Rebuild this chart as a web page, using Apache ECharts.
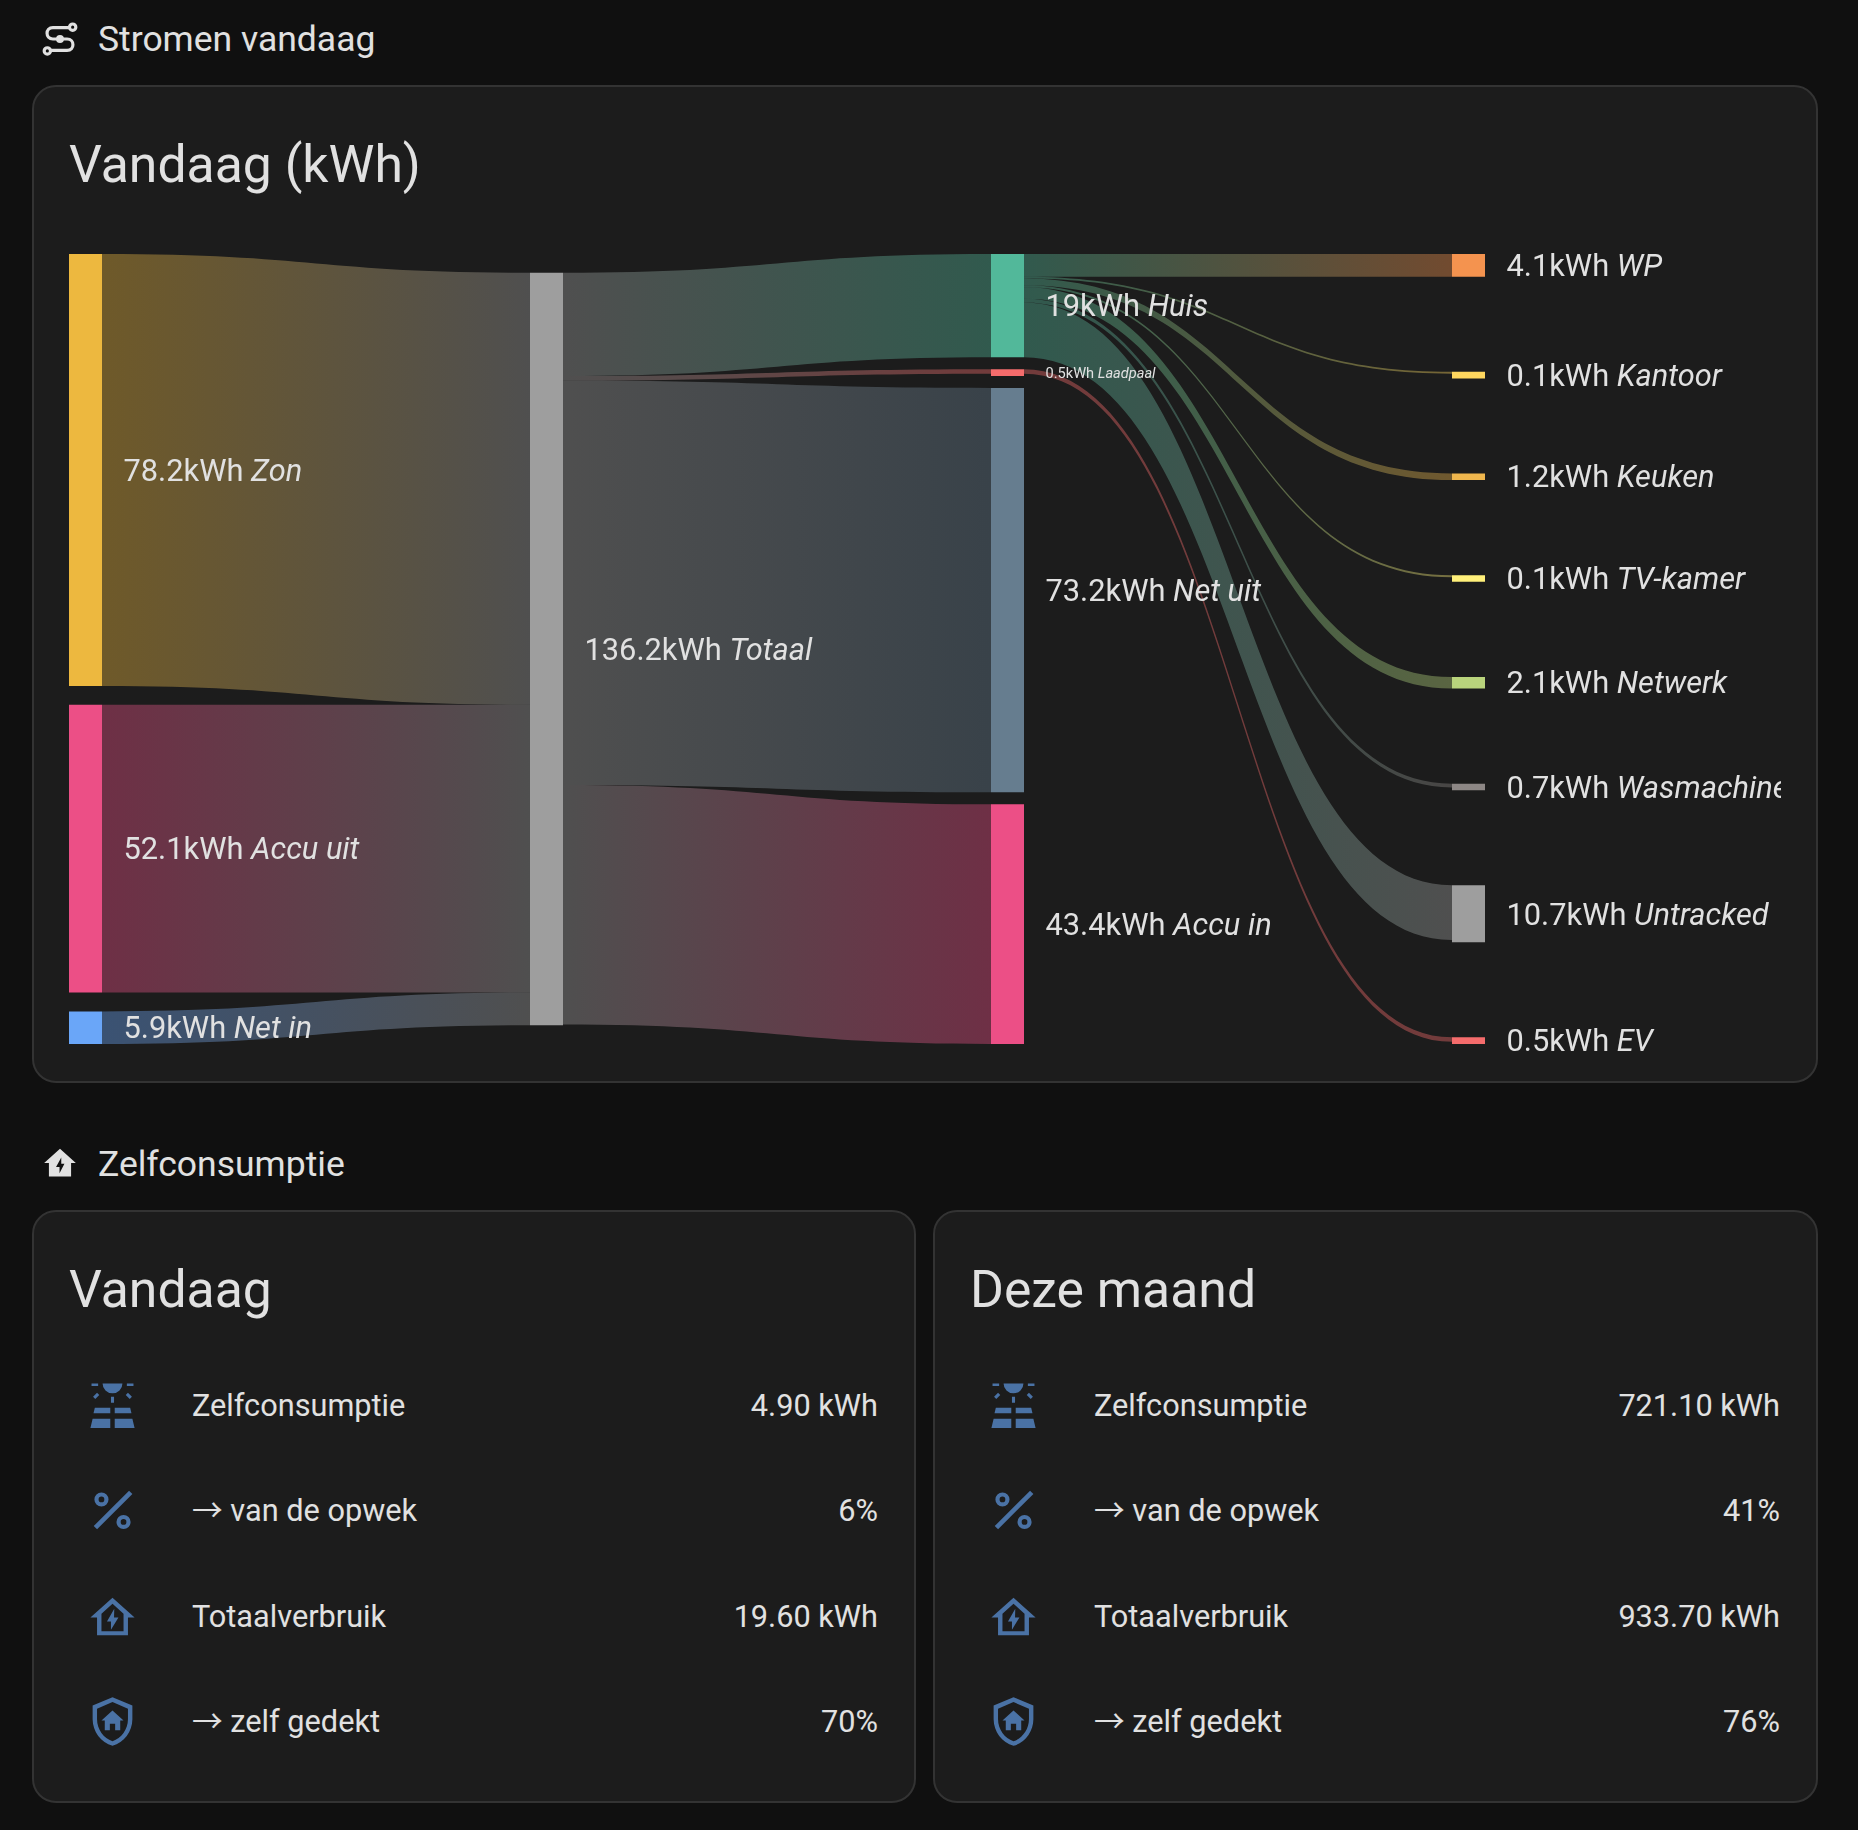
<!DOCTYPE html>
<html>
<head>
<meta charset="utf-8">
<title>Stromen vandaag</title>
<script src="https://cdn.jsdelivr.net/npm/echarts@6/dist/echarts.min.js"></script>
<style>
html, body { margin: 0; padding: 0; background: #101010; }
body { position: relative; width: 1858px; height: 1830px; overflow: hidden; font-family: Roboto, 'Liberation Sans', sans-serif; color: #e1e1e1; }
.head { position: absolute; left: 98px; font-size: 35.500px; line-height: 44px; white-space: nowrap; }
.card { position: absolute; box-sizing: border-box; background: #1c1c1c; border: 2px solid #333; border-radius: 24px; }
.title { position: absolute; left: 35px; font-size: 51.700px; line-height: 64px; white-space: nowrap; }
.ico { position: absolute; width: 53px; height: 53px; }
.lbl, .val { position: absolute; font-size: 30.700px; line-height: 40px; white-space: nowrap; }
.arrow { font-family: 'Noto Sans CJK SC', sans-serif; line-height: 1; }
#sankey { position: absolute; left: 69px; top: 234px; width: 1712px; height: 830px; }
</style>
</head>
<body>
<svg class="ico" style="left:41px;top:20px;width:38px;height:38px" viewBox="0 0 24 24" fill="none" stroke="#e1e1e1" stroke-width="2">
  <circle cx="20" cy="4.5" r="2"/><circle cx="4" cy="19.500" r="2"/>
  <path d="M18 4.800H7.500C2.600 4.800 2.600 12 7.500 12H16.500C21.400 12 21.400 19.200 16.500 19.200H6"/>
  <circle cx="12" cy="12" r="2.500" fill="#e1e1e1" stroke="none"/>
</svg>
<div class="head" style="top:17px">Stromen vandaag</div>
<div class="card" style="left:32px;top:85px;width:1786px;height:998px">
  <div class="title" style="top:46px">Vandaag (kWh)</div>
</div>
<div id="sankey"></div>
<svg class="ico" style="left:41px;top:1144px;width:38px;height:38px" viewBox="0 0 24 24">
  <path fill="#e1e1e1" fill-rule="evenodd" d="M12 3L2 12h3v8.500h14V12h3ZM12.800 8.500L9.500 14.500h2.200V18.500L14.800 12.500h-2Z"/>
</svg>
<div class="head" style="top:1142px">Zelfconsumptie</div>
<div id="cards"></div>

<script>
// sankey: names and printed values
const nodeNames = ['Zon', 'Accu uit', 'Net in', 'Totaal', 'Huis', 'Laadpaal', 'Net uit', 'Accu in',
    'WP', 'Kantoor', 'Keuken', 'TV-kamer', 'Netwerk', 'Wasmachine', 'Untracked', 'EV'];
const nodeLabels = [78.2, 52.1, 5.9, 136.2, 19, 0.5, 73.2, 43.4, 4.1, 0.1, 1.2, 0.1, 2.1, 0.7, 10.7, 0.5];
// bar and band sizes in kWh, the chart keeps a minimum size for tiny flows
const nodeSizes = [78.2, 52.1, 5.9, 136.2, 18.7, 1.2, 73.2, 43.4, 4.1, 1.2, 1.2, 1.2, 2.1, 1.2, 10.3, 1.2];
const nodeColumns = [0, 0, 0, 1, 2, 2, 2, 2, 3, 3, 3, 3, 3, 3, 3, 3];
const nodeColors = ['#edb83f', '#ec4f86', '#6aa6f8', '#9e9e9e', '#52b89a', '#f56c6c', '#667d8f', '#ec4f86',
    '#f4934f', '#ffd75e', '#efb64d', '#fff07a', '#b9d47c', '#8d8785', '#9e9e9e', '#f56c6c'];
const linkSources = ['Zon', 'Accu uit', 'Net in', 'Totaal', 'Totaal', 'Totaal', 'Totaal',
    'Huis', 'Huis', 'Huis', 'Huis', 'Huis', 'Huis', 'Huis', 'Laadpaal'];
const linkTargets = ['Totaal', 'Totaal', 'Totaal', 'Huis', 'Laadpaal', 'Net uit', 'Accu in',
    'WP', 'Kantoor', 'Keuken', 'TV-kamer', 'Netwerk', 'Wasmachine', 'Untracked', 'EV'];
const linkSizes = [78.2, 52.1, 5.9, 18.7, 0.8, 73.2, 43.4, 4.1, 0.35, 1.2, 0.35, 2.1, 0.7, 9.9, 0.8];

// self consumption tiles
const rowLabels = ['Zelfconsumptie', '→ van de opwek', 'Totaalverbruik', '→ zelf gedekt'];
const todayValues = ['4.90 kWh', '6%', '19.60 kWh', '70%'];
const monthValues = ['721.10 kWh', '41%', '933.70 kWh', '76%'];

const ICON_BLUE = '#4a72a5';
const rowIcons = [
    '<path d="M2.500 2h3v1.200h-3zM18.500 2h3v1.200h-3zM7.500 2h9a4.500 4.500 0 0 1-9 0zM11.300 8h1.400v2.800h-1.400zM5 6.200l1 1-1.800 1.800-1-1zM19 6.200l-1 1 1.800 1.800 1-1zM4 13h7v2.500H3.400zM13 13h7l.6 2.500H13zM3 18h8v4.200H2zM13 18h8l1 4.200h-9z"/>',
    '<path d="M19.500 3l1.500 1.500L5 20.500 3.500 19z"/><path fill-rule="evenodd" d="M7 3.800a3.200 3.200 0 1 1 0 6.400 3.200 3.200 0 0 1 0-6.400zm0 1.900a1.300 1.300 0 1 0 0 2.600 1.300 1.300 0 0 0 0-2.600zM17 14a3.200 3.200 0 1 1 0 6.400 3.200 3.200 0 0 1 0-6.400zm0 1.900a1.300 1.300 0 1 0 0 2.600 1.300 1.300 0 0 0 0-2.600z"/>',
    '<path fill-rule="evenodd" d="M12 3.500L2 12.500H5V20.500H19V12.500H22ZM12 6.200L17 10.700V18.700H7V10.700ZM12.800 8.500L9.500 14.300H11.300V18L14.700 12.400H12.700Z"/>',
    '<path fill-rule="evenodd" d="M12 1L3 4.800V11C3 16.500 6.800 21.700 12 23C17.200 21.700 21 16.500 21 11V4.800ZM12 3.200L5 6.200V11C5 15.500 8 19.700 12 20.900C16 19.700 19 15.500 19 11V6.200Z"/><path d="M12 7L7 11.500H8.500V16H10.800V13H13.200V16H15.500V11.500H17Z"/>'
];
const rowCentres = [1406, 1511, 1617, 1722];

function buildCard(left, width, labelLeft, title, values) {
    let html = '<div class="card" style="left:' + left + 'px;top:1210px;width:' + width + 'px;height:593px">' +
        '<div class="title" style="top:46px">' + title + '</div></div>';
    rowLabels.forEach((label, i) => {
        const y = rowCentres[i];
        const text = label.replace('→', '<span class="arrow">→</span>');
        html += '<svg class="ico" viewBox="0 0 24 24" fill="' + ICON_BLUE + '" style="left:' + (left + 54) + 'px;top:' + (y - 27.5) + 'px">' + rowIcons[i] + '</svg>';
        html += '<div class="lbl" style="left:' + (left + labelLeft) + 'px;top:' + (y - 20) + 'px">' + text + '</div>';
        html += '<div class="val" style="right:' + (1858 - (left + width - 38)) + 'px;top:' + (y - 20) + 'px">' + values[i] + '</div>';
    });
    return html;
}
document.getElementById('cards').innerHTML =
    buildCard(32, 884, 160, 'Vandaag', todayValues) + buildCard(933, 885, 161, 'Deze maand', monthValues);

// every column of the sankey card is spread over the full height
const CHART_H = 790;
const NODE_GAP = 12;

function columnSum(c) {
    return nodeSizes.reduce((s, v, i) => nodeColumns[i] === c ? s + v : s, 0);
}
function columnCount(c) {
    return nodeColumns.filter(x => x === c).length;
}
const ky = Math.min.apply(null, [0, 1, 2, 3].map(c => (CHART_H - (columnCount(c) - 1) * NODE_GAP) / columnSum(c)));

const nextY = {};
const sankeyNodes = nodeNames.map((name, i) => {
    const c = nodeColumns[i];
    const n = columnCount(c);
    const free = CHART_H - columnSum(c) * ky;
    if (nextY[c] === undefined) {
        nextY[c] = n > 1 ? 0 : free / 2;
    }
    const y = nextY[c];
    nextY[c] += nodeSizes[i] * ky + (n > 1 ? free / (n - 1) : 0);
    const small = name === 'Laadpaal';
    return {
        name: name,
        value: nodeSizes[i],
        localY: y / CHART_H,
        itemStyle: { color: nodeColors[i] },
        label: {
            offset: [0, small ? 1.5 : 3],
            formatter: '{v|' + nodeLabels[i] + 'kWh }{n|' + name + '}',
            rich: {
                v: { fontSize: small ? 14.6 : 30.800, fontFamily: 'Roboto', color: '#e1e1e1' },
                n: { fontSize: small ? 14.6 : 30.800, fontFamily: 'Roboto', fontStyle: 'italic', color: '#e1e1e1' }
            }
        }
    };
});

const sankeyLinks = linkSources.map((s, i) => ({
    source: s,
    target: linkTargets[i],
    value: linkSizes[i]
}));

const chart = echarts.init(document.getElementById('sankey'));
chart.setOption({
    animation: false,
    tooltip: { show: false },
    series: [{
        type: 'sankey',
        left: 0,
        top: 20,
        right: 296,
        bottom: 20,
        nodeWidth: 33,
        nodeGap: NODE_GAP,
        nodeAlign: 'left',
        layoutIterations: 0,
        draggable: false,
        silent: true,
        emphasis: { disabled: true },
        data: sankeyNodes,
        links: sankeyLinks,
        label: { show: true, position: 'right', distance: 21.5, fontFamily: 'Roboto', color: '#e1e1e1' },
        lineStyle: { color: 'gradient', opacity: 0.4, curveness: 0.5 },
        itemStyle: { borderWidth: 0 }
    }]
});
</script>
</body>
</html>
